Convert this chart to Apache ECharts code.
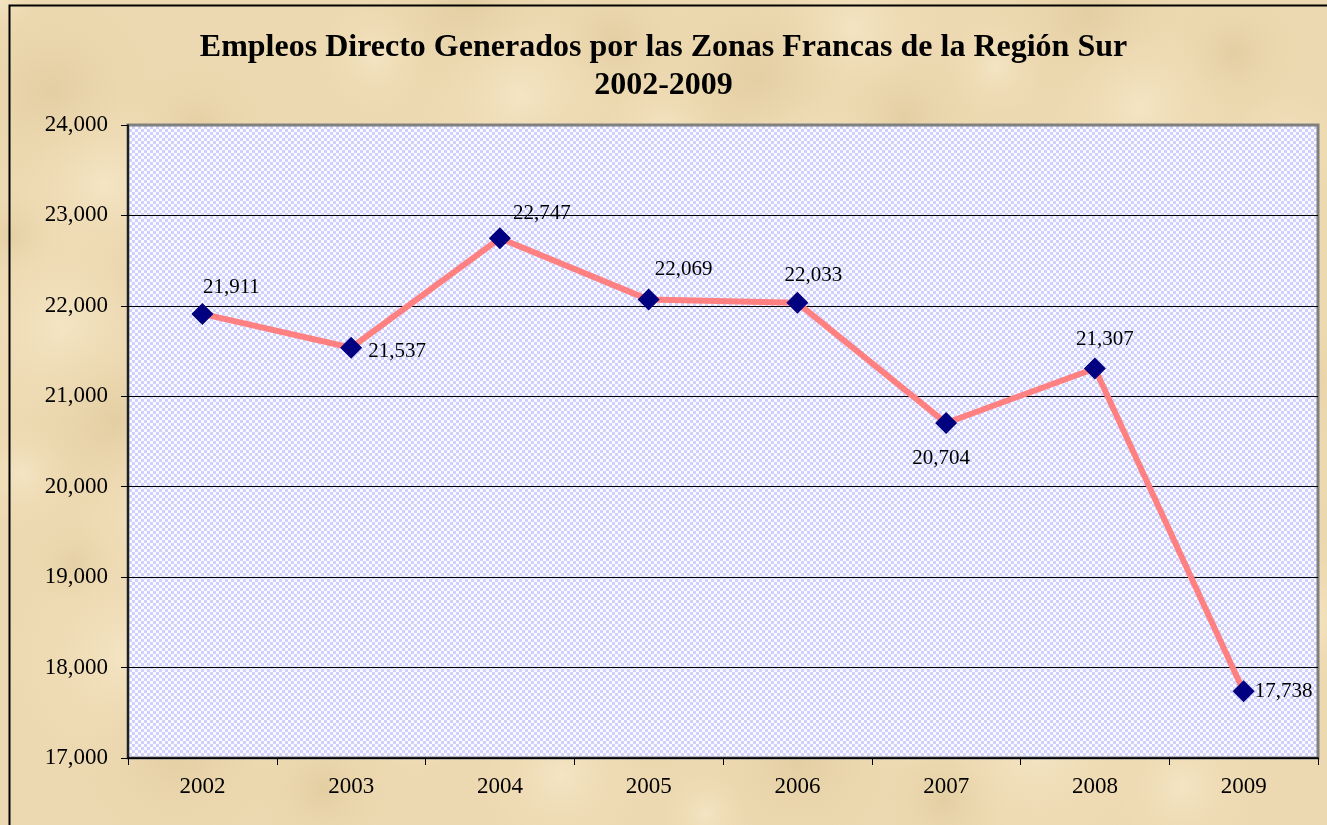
<!DOCTYPE html>
<html>
<head>
<meta charset="utf-8">
<script src="https://cdn.jsdelivr.net/npm/echarts@6/dist/echarts.min.js"></script>
<style>
html,body{margin:0;padding:0;background:#ecd9b2;}
#chart{width:1327px;height:825px;}
</style>
</head>
<body>
<div id="chart"></div>
<script>
const years=['2002','2003','2004','2005','2006','2007','2008','2009'];
const empleos=[21911,21537,22747,22069,22033,20704,21307,17738];
const yTicks=[17000,18000,19000,20000,21000,22000,23000,24000];

// where each value label sits, like the original
const labelPlace=[
  {position:'top',offset:[29,0]},
  {position:'right',offset:[1,4]},
  {position:'top',offset:[42,2]},
  {position:'top',offset:[35,-4]},
  {position:'top',offset:[16,-1]},
  {position:'bottom',offset:[-5,9]},
  {position:'top',offset:[10,-3]},
  {position:'right',offset:[-5,0]}
];

function checker(){
  const c=document.createElement('canvas');
  c.width=6;c.height=6;
  const g=c.getContext('2d');
  g.fillStyle='#fbfbff';g.fillRect(0,0,6,6);
  g.fillStyle='#d0d0ff';
  g.fillRect(0,0,3,3);g.fillRect(3,3,3,3);
  return c;
}
function parchment(){
  const c=document.createElement('canvas');
  c.width=1327;c.height=825;
  const g=c.getContext('2d');
  g.fillStyle='#edd9b1';g.fillRect(0,0,1327,825);
  for(let i=0;i<80;i++){
    const x=(i*197)%1327, y=(i*131)%825, r=40+(i*37)%90;
    const rg=g.createRadialGradient(x,y,0,x,y,r);
    const light=i%2===0;
    rg.addColorStop(0,light?'rgba(250,238,210,0.55)':'rgba(210,186,136,0.35)');
    rg.addColorStop(1,'rgba(237,217,177,0)');
    g.fillStyle=rg;g.fillRect(x-r,y-r,2*r,2*r);
  }
  return c;
}

const chart=echarts.init(document.getElementById('chart'));
const font='"Liberation Serif","Times New Roman",serif';

chart.setOption({
  backgroundColor:{image:parchment(),repeat:'no-repeat'},
  animation:false,
  title:{
    text:'Empleos Directo Generados por las Zonas Francas de la Región Sur\n2002-2009',
    left:'center',top:24,
    textStyle:{fontFamily:font,fontSize:32,fontWeight:'bold',color:'#000',lineHeight:38}
  },
  graphic:[{
    type:'rect',left:7,top:3,
    shape:{width:1340,height:840},
    style:{fill:'none',stroke:'#000',lineWidth:2},
    silent:true
  }],
  grid:{
    left:128,top:125,right:9,bottom:67,
    show:true,
    backgroundColor:{image:checker(),repeat:'repeat'},
    borderColor:'#808080',borderWidth:3
  },
  xAxis:{
    type:'category',data:years,boundaryGap:true,
    axisLine:{lineStyle:{color:'#000',width:1.5}},
    axisTick:{show:true,alignWithLabel:false,length:7,lineStyle:{color:'#000'}},
    axisLabel:{fontFamily:font,fontSize:23,color:'#000',margin:17}
  },
  yAxis:{
    type:'value',min:yTicks[0],max:yTicks[yTicks.length-1],interval:1000,
    axisLine:{show:true,lineStyle:{color:'#000',width:1.5}},
    axisTick:{show:true,length:7,lineStyle:{color:'#000'}},
    splitLine:{showMaxLine:false,lineStyle:{color:'#000',width:1}},
    axisLabel:{fontFamily:font,fontSize:23,color:'#000',margin:20,
      formatter:v=>v.toLocaleString('en-US')}
  },
  series:[{
    type:'line',
    data:empleos.map((v,i)=>({value:v,label:labelPlace[i]})),
    lineStyle:{color:'#ff8080',width:6},
    symbol:'diamond',symbolSize:22,
    itemStyle:{color:'#000080'},
    label:{show:true,fontFamily:font,fontSize:21,color:'#000',
      formatter:p=>p.value.toLocaleString('en-US')},
    z:3
  }]
});
</script>
</body>
</html>
